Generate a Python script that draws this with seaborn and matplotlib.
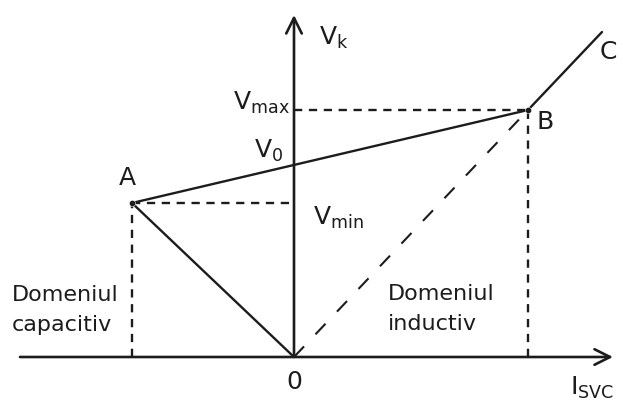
import matplotlib
matplotlib.use("Agg")
import matplotlib.pyplot as plt
import pandas as pd
import seaborn as sns

# SVC static characteristic, origin at O (current I_SVC, voltage V_k)
point_names = ["A", "B", "C"]
i_pts = [-1.62, 2.34, 3.08]
v_pts = [1.54, 2.47, 3.25]
v_min = 1.54
v_max = 2.47
v_0 = 1.92
i_cap = [-1.62, 0.0]
v_cap = [1.54, 0.0]
i_ind = [0.0, 2.34]
v_ind = [0.0, 2.47]

sns.set_theme(style="white")
plt.rcParams["font.family"] = ["DejaVu Sans"]
plt.rcParams["mathtext.fontset"] = "dejavusans"

fig = plt.figure(figsize=(6.23, 4), dpi=100)
ax = fig.add_axes([0, 0, 1, 1])
ax.set_xlim(-2.94, 3.29)
ax.set_ylim(-0.43, 3.57)
ax.axis("off")

ink = "#1c1c1c"

# axes with open arrow heads
ax.annotate("", xy=(3.19, 0), xytext=(-2.74, 0),
            arrowprops=dict(arrowstyle="->", lw=1.9, color=ink, mutation_scale=28,
                            shrinkA=0, shrinkB=0))
ax.annotate("", xy=(0, 3.42), xytext=(0, 0),
            arrowprops=dict(arrowstyle="->", lw=1.9, color=ink, mutation_scale=28,
                            shrinkA=0, shrinkB=0))

# characteristic A-B-C and capacitive line A-O
df = pd.DataFrame({"I": i_pts, "V": v_pts, "pt": point_names})
sns.lineplot(data=df, x="I", y="V", sort=False, estimator=None, color=ink, lw=1.7, ax=ax)
sns.lineplot(x=i_cap, y=v_cap, sort=False, estimator=None, color=ink, lw=1.7, ax=ax)

# dashed guides
short = dict(color=ink, lw=1.7, linestyle=(0, (3.5, 2.8)), sort=False, estimator=None)
sns.lineplot(x=[i_pts[0], 0], y=[v_min, v_min], ax=ax, **short)
sns.lineplot(x=[0, i_pts[1]], y=[v_max, v_max], ax=ax, **short)
sns.lineplot(x=[i_pts[0], i_pts[0]], y=[0, v_min], ax=ax, **short)
sns.lineplot(x=[i_pts[1], i_pts[1]], y=[0, v_max], ax=ax, **short)
sns.lineplot(x=i_ind, y=v_ind, sort=False, estimator=None, ax=ax, color=ink, lw=1.5,
             linestyle=(0, (7, 8)))

sns.scatterplot(x=i_pts[:2], y=v_pts[:2], color=ink, s=20, ax=ax, zorder=5)

fs = 18
offsets = {"A": (-0.05, 0.25), "B": (0.17, -0.12), "C": (0.06, -0.2)}
for name, i, v in zip(point_names, i_pts, v_pts):
    dx, dy = offsets[name]
    ax.text(i + dx, v + dy, name, ha="center", va="center", fontsize=fs, color=ink)

ax.text(0.25, 3.12, r"$\mathregular{V_k}$", ha="left", va="baseline", fontsize=fs, color=ink)
ax.text(-0.04, v_max, r"$\mathregular{V_{max}}$", ha="right", va="baseline", fontsize=fs, color=ink)
ax.text(-0.11, v_0 + 0.07, r"$\mathregular{V_0}$", ha="right", va="baseline", fontsize=fs, color=ink)
ax.text(0.19, v_min - 0.22, r"$\mathregular{V_{min}}$", ha="left", va="baseline", fontsize=fs, color=ink)
ax.text(0, -0.25, "0", ha="center", va="center", fontsize=fs, color=ink)
ax.text(2.76, -0.38, r"$\mathregular{I_{SVC}}$", ha="left", va="baseline", fontsize=fs, color=ink)

ax.text(-2.82, 0.47, "Domeniul\ncapacitiv", ha="left", va="center", fontsize=16,
        color=ink, linespacing=1.6)
ax.text(0.94, 0.48, "Domeniul\ninductiv", ha="left", va="center", fontsize=16,
        color=ink, linespacing=1.6)

fig.savefig("out.png", dpi=100)
